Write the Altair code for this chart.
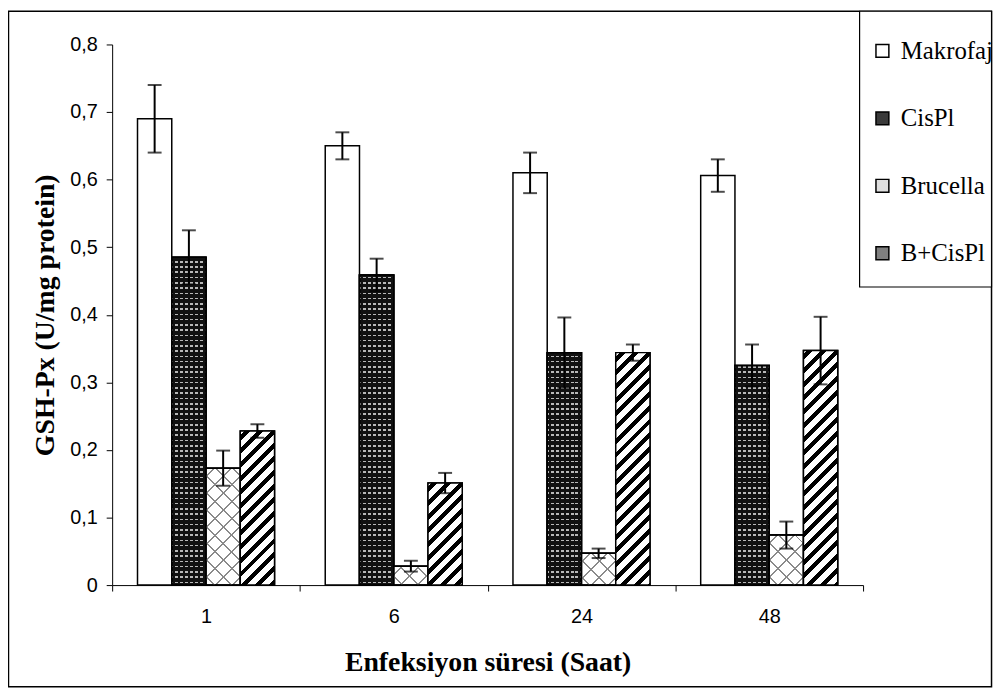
import altair as alt
import pandas as pd

hours = ["1", "6", "24", "48"]
groups = ["Makrofaj", "CisPl", "Brucella", "B+CisPl"]

makrofaj = [0.690, 0.650, 0.610, 0.606]
makrofaj_err = [0.050, 0.020, 0.030, 0.024]
cispl = [0.485, 0.459, 0.344, 0.325]
cispl_err = [0.040, 0.024, 0.052, 0.031]
brucella = [0.173, 0.028, 0.047, 0.074]
brucella_err = [0.026, 0.008, 0.007, 0.020]
bcispl = [0.228, 0.151, 0.344, 0.347]
bcispl_err = [0.010, 0.015, 0.012, 0.050]

y_ticks = [0.0, 0.1, 0.2, 0.3, 0.4, 0.5, 0.6, 0.7, 0.8]
fills = ["#ffffff", "#3a3a3a", "#dedede", "#7f7f7f"]

series = {
    "Makrofaj": (makrofaj, makrofaj_err),
    "CisPl": (cispl, cispl_err),
    "Brucella": (brucella, brucella_err),
    "B+CisPl": (bcispl, bcispl_err),
}
rows = []
for g in groups:
    vals, errs = series[g]
    for h, v, e in zip(hours, vals, errs):
        rows.append({"hour": h, "group": g, "value": v, "lo": v - e, "hi": v + e})
df = pd.DataFrame(rows)

W, H = 757, 545
Y_MAX = 0.8
PAD_OUTER = 0.74
BAR_W = W / len(hours) / (len(groups) + 2 * PAD_OUTER)
CLEAR = "rgba(255,255,255,0)"

x_enc = alt.X(
    "hour:N",
    sort=hours,
    scale=alt.Scale(paddingInner=0, paddingOuter=0),
    axis=alt.Axis(
        title="Enfeksiyon süresi (Saat)",
        labelAngle=0,
        tickBand="extent",
        tickSize=6,
        labelPadding=16,
        titlePadding=22,
        zindex=1,
    ),
)
xoff = alt.XOffset("group:N", sort=groups, scale=alt.Scale(paddingInner=0, paddingOuter=PAD_OUTER))
y_scale = alt.Scale(domain=[0, Y_MAX], nice=False, zero=True)

bars = alt.Chart(df).mark_bar(stroke="black", strokeWidth=1.5).encode(
    x=x_enc,
    xOffset=xoff,
    y=alt.Y(
        "value:Q",
        scale=y_scale,
        axis=alt.Axis(
            title="GSH-Px (U/mg protein)",
            values=y_ticks,
            labelExpr="datum.value == 0 ? '0' : replace(format(datum.value, '.1f'), '.', ',')",
            tickSize=6,
            labelPadding=9,
            titlePadding=10,
            grid=False,
            zindex=1,
        ),
    ),
    color=alt.Color(
        "group:N",
        sort=groups,
        scale=alt.Scale(domain=groups, range=fills),
        legend=alt.Legend(
            title=None,
            orient="none",
            legendX=764,
            legendY=-6,
            direction="vertical",
            symbolType="square",
            symbolSize=169,
            symbolStrokeColor="black",
            symbolStrokeWidth=1.5,
            labelFont="Liberation Serif",
            labelFontSize=25,
            labelColor="black",
            labelOffset=6,
            rowPadding=42,
            padding=0,
        ),
    ),
)


def make_stops(total, dt, lw, line_color, bg_color):
    stops = [alt.GradientStop(offset=0, color=bg_color)]
    k = 0
    while True:
        a = min(k * dt + (dt - lw) / 2, 1.0)
        b = min(a + lw, 1.0)
        stops += [
            alt.GradientStop(offset=a, color=bg_color),
            alt.GradientStop(offset=a, color=line_color),
            alt.GradientStop(offset=b, color=line_color),
            alt.GradientStop(offset=b, color=bg_color),
        ]
        if b >= 1.0 or a > total:
            break
        k += 1
    return stops


def diag_gradient(value, period, line_w, line_color, bg_color, rising=True):
    """Diagonal hatch for one bar as a hard-stop linear gradient (bbox units)."""
    h = max(value / Y_MAX * H, 1.0)
    w = BAR_W
    r = h / w
    span = w * (1 + r * r)
    stops = make_stops((w + h) / span, period / span, line_w / span, line_color, bg_color)
    if rising:
        return alt.LinearGradient(gradient="linear", stops=stops, x1=0, y1=0, x2=1, y2=r)
    return alt.LinearGradient(gradient="linear", stops=stops, x1=0, y1=1, x2=1, y2=1 - r)


def axis_gradient(value, period, line_w, line_color, bg_color, horizontal=True):
    """Horizontal (or vertical) line hatch for one bar."""
    h = max(value / Y_MAX * H, 1.0)
    span = h if horizontal else BAR_W
    stops = make_stops(1.0, period / span, line_w / span, line_color, bg_color)
    if horizontal:
        return alt.LinearGradient(gradient="linear", stops=stops, x1=0, y1=1, x2=0, y2=0)
    return alt.LinearGradient(gradient="linear", stops=stops, x1=0, y1=0, x2=1, y2=0)


def one_bar(group, hour, fill):
    sub = df[(df["group"] == group) & (df["hour"] == hour)]
    return alt.Chart(sub).mark_bar(fill=fill, stroke="black", strokeWidth=1.5).encode(
        x=alt.X("hour:N", sort=hours), xOffset=xoff, y=alt.Y("value:Q", scale=y_scale)
    )


overlays = []
for h, v in zip(hours, cispl):
    overlays.append(one_bar("CisPl", h, axis_gradient(v, 5.3, 1.6, "#b8b8b8", "#111111", True)))
    overlays.append(one_bar("CisPl", h, axis_gradient(v, 5.0, 2.0, "#111111", CLEAR, False)))
for h, v in zip(hours, brucella):
    overlays.append(one_bar("Brucella", h, diag_gradient(v, 17.0, 2.0, "#8a8a8a", "#ffffff", True)))
    overlays.append(one_bar("Brucella", h, diag_gradient(v, 17.0, 2.0, "#8a8a8a", CLEAR, False)))
for h, v in zip(hours, bcispl):
    overlays.append(one_bar("B+CisPl", h, diag_gradient(v, 13.8, 6.0, "#000000", "#ffffff", True)))

err_rule = alt.Chart(df).mark_rule(color="black", strokeWidth=2).encode(
    x=alt.X("hour:N", sort=hours),
    xOffset=xoff,
    y=alt.Y("lo:Q", scale=y_scale),
    y2="hi:Q",
)
cap_hi = alt.Chart(df).mark_tick(color="black", size=14, thickness=2, orient="horizontal").encode(
    x=alt.X("hour:N", sort=hours),
    xOffset=xoff,
    y=alt.Y("hi:Q", scale=y_scale),
)
cap_lo = alt.Chart(df).mark_tick(color="black", size=14, thickness=2, orient="horizontal").encode(
    x=alt.X("hour:N", sort=hours),
    xOffset=xoff,
    y=alt.Y("lo:Q", scale=y_scale),
)

one = pd.DataFrame({"k": [0]})
outer_box = alt.Chart(one).mark_rect(fillOpacity=0, stroke="black", strokeWidth=1.5).encode(
    x=alt.value(-104.5), x2=alt.value(886.5), y=alt.value(-33.5), y2=alt.value(647.5)
)
legend_box = alt.Chart(one).mark_rect(fill="white", stroke="black", strokeWidth=1.2).encode(
    x=alt.value(753.5), x2=alt.value(886.5), y=alt.value(-33.5), y2=alt.value(244.5)
)

chart = (
    alt.layer(outer_box, legend_box, bars, *overlays, err_rule, cap_hi, cap_lo)
    .properties(
        width=W,
        height=H,
        autosize=alt.AutoSizeParams(type="none"),
        padding={"left": 105, "top": 34, "right": 133, "bottom": 103},
        background="white",
    )
    .configure_view(strokeWidth=0)
    .configure_axis(
        domainColor="black",
        tickColor="black",
        labelColor="black",
        labelFont="Liberation Sans",
        labelFontSize=20,
        titleFont="Liberation Serif",
        titleFontSize=28,
        titleFontWeight="bold",
        titleColor="black",
    )
)

chart.save("out.html", embed_options={"renderer": "svg", "actions": False})
